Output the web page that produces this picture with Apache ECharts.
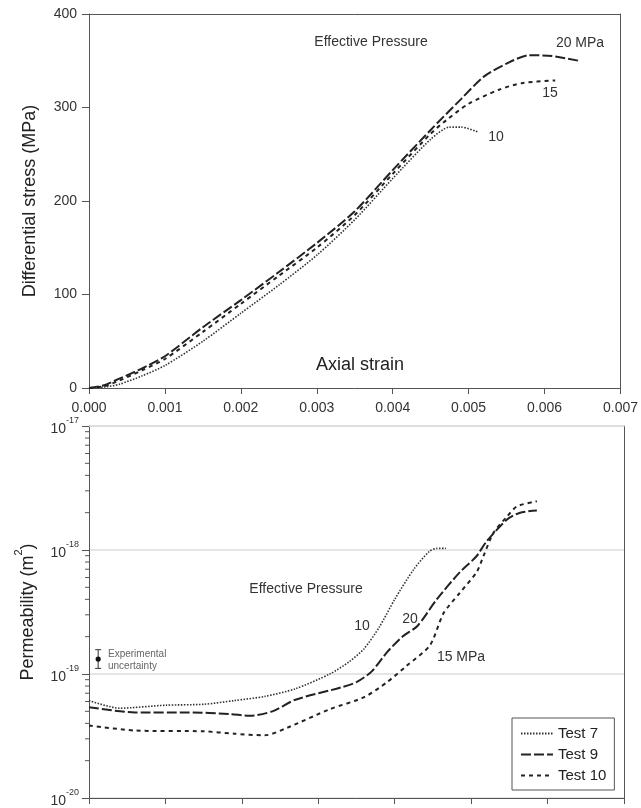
<!DOCTYPE html>
<html>
<head>
<meta charset="utf-8">
<title>Stress and permeability vs axial strain</title>
<script src="https://cdn.jsdelivr.net/npm/echarts@6/dist/echarts.min.js"></script>
<style>
  html, body { margin: 0; padding: 0; background: #fff; }
  #chart { width: 641px; height: 808px; }
</style>
</head>
<body>
<div id="chart"></div>
<script>
// 上图：差应力 - 轴向应变
const strainT7 = [0, 0.0002, 0.0004, 0.0007, 0.001, 0.0015, 0.002, 0.0025, 0.003, 0.0035, 0.004, 0.0045, 0.00475, 0.0049, 0.00512]
const stressT7 = [0, 1, 4, 13, 24, 50, 80, 110, 142, 180, 224, 266, 279, 279, 274]

const strainT9 = [0, 0.0002, 0.0004, 0.0007, 0.001, 0.0015, 0.002, 0.0025, 0.003, 0.0035, 0.004, 0.0045, 0.0049, 0.0052, 0.0055, 0.0058, 0.0061, 0.00645]
const stressT9 = [0, 3, 10, 21, 34, 65, 94, 124, 155, 189, 233, 276, 309, 333, 347, 356, 355, 350]

const strainT10 = [0, 0.0002, 0.0004, 0.0007, 0.001, 0.0015, 0.002, 0.0025, 0.003, 0.0035, 0.004, 0.0045, 0.0047, 0.005, 0.0054, 0.0057, 0.00614]
const stressT10 = [0, 2, 8, 19, 31, 60, 90, 120, 150, 185, 229, 272, 286, 304, 319, 326, 329]

// 下图：渗透率 - 轴向应变
const kStrain7 = [0, 0.0004, 0.001, 0.0015, 0.0019, 0.0023, 0.0027, 0.00315, 0.0034, 0.0036, 0.0038, 0.004, 0.00425, 0.00445, 0.00455, 0.00467]
const perm7 = [6.1e-20, 5.3e-20, 5.6e-20, 5.7e-20, 6.1e-20, 6.6e-20, 7.6e-20, 1.0e-19, 1.25e-19, 1.6e-19, 2.4e-19, 4.0e-19, 7.0e-19, 9.7e-19, 1.03e-18, 1.03e-18]

const kStrain9 = [0, 0.0006, 0.0013, 0.00185, 0.0021, 0.0024, 0.0027, 0.0033, 0.0035, 0.0037, 0.0039, 0.0041, 0.0043, 0.00455, 0.00485, 0.00507, 0.0052, 0.00547, 0.00564, 0.00586]
const perm9 = [5.4e-20, 4.9e-20, 4.9e-20, 4.75e-20, 4.6e-20, 5.0e-20, 6.2e-20, 7.8e-20, 8.6e-20, 1.05e-19, 1.5e-19, 2.0e-19, 2.45e-19, 4.0e-19, 6.6e-19, 8.9e-19, 1.17e-18, 1.76e-18, 2.0e-18, 2.08e-18]

const kStrain10 = [0, 0.0006, 0.0015, 0.0019, 0.0023, 0.0026, 0.00315, 0.0036, 0.0039, 0.00416, 0.00446, 0.00464, 0.00485, 0.00507, 0.00516, 0.00529, 0.00547, 0.0056, 0.00586]
const perm10 = [3.85e-20, 3.5e-20, 3.45e-20, 3.3e-20, 3.2e-20, 3.7e-20, 5.2e-20, 6.5e-20, 8.6e-20, 1.17e-19, 1.7e-19, 3.1e-19, 4.5e-19, 6.6e-19, 8.9e-19, 1.37e-18, 1.86e-18, 2.25e-18, 2.47e-18]

// 实验误差：应变, 渗透率, 下限, 上限
const uncertaintyPoint = [0.00012, 1.32e-19, 1.11e-19, 1.57e-19]

// 对数轴次刻度 (2..9 × 10^n)
const minorDecades = [-20, -19, -18]
const minorMantissas = [2, 3, 4, 5, 6, 7, 8, 9]

const testNames = ['Test 7', 'Test 9', 'Test 10']

const FONT = 'Liberation Sans, Arial, sans-serif'
const AXIS_COLOR = '#555'
const TEXT_COLOR = '#333'

const zip = (xs, ys) => xs.map((x, i) => [x, ys[i]])

const minorTicks = []
minorDecades.forEach((d) => {
  minorMantissas.forEach((m) => minorTicks.push([0, m * Math.pow(10, d)]))
})

// 各试验的线型
const lineStyles = {
  'Test 7': { type: [1.5, 1.5], width: 1.6, color: '#333' },
  'Test 9': { type: [10, 3], width: 2, color: '#222' },
  'Test 10': { type: [4, 4], width: 2, color: '#222' },
}

const makeLine = (name, data, gridIdx) => ({
  name,
  type: 'line',
  xAxisIndex: gridIdx * 2,
  yAxisIndex: gridIdx * 2,
  data,
  smooth: 0.25,
  symbol: 'none',
  lineStyle: lineStyles[name],
  itemStyle: { color: lineStyles[name].color },
  silent: true,
})

// 只画边框线的辅助轴
const frameAxis = (gridIndex, position, color) => ({
  type: 'value',
  gridIndex,
  position,
  min: 0,
  max: 1,
  axisLine: { show: true, onZero: false, lineStyle: { color: color || AXIS_COLOR, width: color ? 1.5 : 1 } },
  axisTick: { show: false },
  axisLabel: { show: false },
  splitLine: { show: false },
})

const chart = echarts.init(document.getElementById('chart'))

const textItem = (x, y, text, size, extra) => ({
  type: 'text',
  x,
  y,
  style: Object.assign(
    { text, fontSize: size, fontFamily: FONT, fill: '#333', align: 'center', verticalAlign: 'middle' },
    extra || {},
  ),
})

const option = {
  animation: false,
  textStyle: { fontFamily: FONT },
  grid: [
    { left: 89, right: 17, top: 14, height: 374 },
    { left: 89, right: 17, top: 426, height: 373 },
  ],
  legend: {
    data: testNames,
    orient: 'vertical',
    left: 512,
    top: 718,
    borderColor: '#555',
    borderWidth: 1,
    padding: [8, 8, 7, 8],
    itemWidth: 32,
    itemHeight: 14,
    itemGap: 6,
    selectedMode: false,
    itemStyle: { opacity: 0 },
    textStyle: { fontSize: 15, color: '#222', fontFamily: FONT },
  },
  xAxis: [
    {
      type: 'value',
      gridIndex: 0,
      min: 0,
      max: 0.007,
      interval: 0.001,
      axisLine: { onZero: false, lineStyle: { color: AXIS_COLOR } },
      axisTick: { length: 6, lineStyle: { color: AXIS_COLOR } },
      axisLabel: {
        margin: 13,
        fontSize: 14,
        color: TEXT_COLOR,
        formatter: (v) => v.toFixed(3),
      },
      splitLine: { show: false },
    },
    frameAxis(0, 'top'),
    {
      type: 'value',
      gridIndex: 1,
      min: 0,
      max: 0.007,
      interval: 0.001,
      axisLine: { onZero: false, lineStyle: { color: AXIS_COLOR } },
      axisTick: { length: 6, lineStyle: { color: AXIS_COLOR } },
      axisLabel: { show: false },
      splitLine: { show: false },
    },
    frameAxis(1, 'top', '#dcdcdc'),
  ],
  yAxis: [
    {
      type: 'value',
      gridIndex: 0,
      min: 0,
      max: 400,
      interval: 100,
      name: 'Differential stress (MPa)',
      nameLocation: 'middle',
      nameGap: 50,
      nameTextStyle: { fontSize: 18, color: '#222', fontFamily: FONT },
      axisLine: { show: true, onZero: false, lineStyle: { color: AXIS_COLOR } },
      axisTick: { show: true, length: 7, lineStyle: { color: AXIS_COLOR } },
      axisLabel: { margin: 12, fontSize: 14, color: TEXT_COLOR },
      splitLine: { show: false },
    },
    frameAxis(0, 'right'),
    {
      type: 'log',
      logBase: 10,
      gridIndex: 1,
      min: 1e-20,
      max: 1e-17,
      name: '{a|Permeability (m}{s|2}{a|)}',
      nameLocation: 'middle',
      nameGap: 52,
      nameTextStyle: {
        color: '#222',
        rich: {
          a: { fontSize: 18, color: '#222', fontFamily: FONT, lineHeight: 24, verticalAlign: 'bottom' },
          s: { fontSize: 11, color: '#222', fontFamily: FONT, verticalAlign: 'top' },
        },
      },
      axisLine: { show: true, onZero: false, lineStyle: { color: AXIS_COLOR } },
      axisTick: { show: true, length: 7, lineStyle: { color: AXIS_COLOR } },
      axisLabel: {
        margin: 10,
        color: TEXT_COLOR,
        formatter: (v) => '{b|10}{s|' + Math.round(Math.log10(v)) + '}',
        rich: {
          b: { fontSize: 14, color: TEXT_COLOR, fontFamily: FONT, lineHeight: 20, verticalAlign: 'bottom' },
          s: { fontSize: 9, color: TEXT_COLOR, fontFamily: FONT, verticalAlign: 'top' },
        },
      },
      splitLine: { show: true, lineStyle: { color: '#dcdcdc', width: 1.5 } },
    },
    frameAxis(1, 'right'),
  ],
  series: [
    makeLine('Test 7', zip(strainT7, stressT7), 0),
    makeLine('Test 9', zip(strainT9, stressT9), 0),
    makeLine('Test 10', zip(strainT10, stressT10), 0),
    makeLine('Test 7', zip(kStrain7, perm7), 1),
    makeLine('Test 9', zip(kStrain9, perm9), 1),
    makeLine('Test 10', zip(kStrain10, perm10), 1),
    {
      // 对数轴次刻度
      type: 'custom',
      xAxisIndex: 2,
      yAxisIndex: 2,
      silent: true,
      clip: false,
      data: minorTicks,
      renderItem: (params, api) => {
        const p = api.coord([api.value(0), api.value(1)])
        return {
          type: 'line',
          shape: { x1: p[0] - 4, y1: p[1], x2: p[0], y2: p[1] },
          style: { stroke: AXIS_COLOR, lineWidth: 1 },
        }
      },
    },
    {
      // 实验误差棒
      type: 'custom',
      xAxisIndex: 2,
      yAxisIndex: 2,
      silent: true,
      data: [uncertaintyPoint],
      renderItem: (params, api) => {
        const c = api.coord([api.value(0), api.value(1)])
        const lo = api.coord([api.value(0), api.value(2)])
        const hi = api.coord([api.value(0), api.value(3)])
        const st = { stroke: '#333', lineWidth: 1 }
        return {
          type: 'group',
          children: [
            { type: 'line', shape: { x1: c[0], y1: lo[1], x2: c[0], y2: hi[1] }, style: st },
            { type: 'line', shape: { x1: c[0] - 3, y1: lo[1], x2: c[0] + 3, y2: lo[1] }, style: st },
            { type: 'line', shape: { x1: c[0] - 3, y1: hi[1], x2: c[0] + 3, y2: hi[1] }, style: st },
            { type: 'circle', shape: { cx: c[0], cy: c[1], r: 2.6 }, style: { fill: '#111' } },
          ],
        }
      },
    },
  ],
  graphic: [
    // 上图标注
    textItem(371, 42, 'Effective Pressure', 14),
    textItem(580, 43, '20 MPa', 14),
    textItem(550, 93, '15', 14),
    textItem(496, 137, '10', 14),
    textItem(360, 365, 'Axial strain', 18, { fill: '#222' }),
    // 下图标注
    textItem(306, 589, 'Effective Pressure', 14),
    textItem(362, 626, '10', 14),
    textItem(410, 619, '20', 14),
    textItem(461, 657, '15 MPa', 14),
    textItem(108, 654, 'Experimental', 10, { fill: '#666', align: 'left' }),
    textItem(108, 666, 'uncertainty', 10, { fill: '#666', align: 'left' }),
  ],
}

chart.setOption(option)
</script>
</body>
</html>
